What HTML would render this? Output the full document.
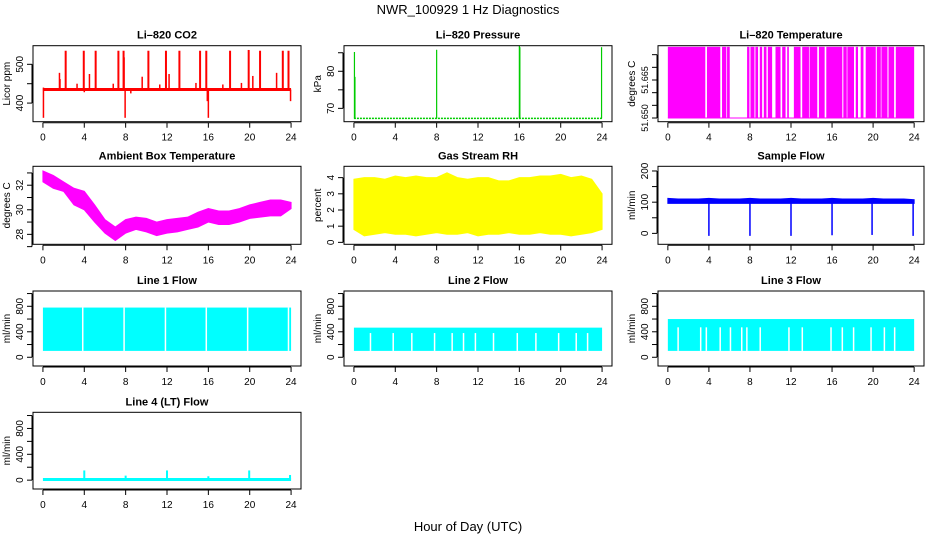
<!DOCTYPE html>
<html><head><meta charset="utf-8">
<style>
html,body{margin:0;padding:0;background:#fff;}
svg{display:block;font-family:"Liberation Sans",Arial,sans-serif;}
</style></head>
<body>
<svg id="c" width="936" height="540" viewBox="0 0 936 540">
<text x="468" y="14" text-anchor="middle" font-size="13">NWR_100929  1 Hz Diagnostics</text>
<text x="468" y="531" text-anchor="middle" font-size="13">Hour of Day (UTC)</text>
</svg>
<script>
// ---------- data ----------
const xTicks = [0,4,8,12,16,20,24];
const hours = [0,1,2,3,4,5,6,7,8,9,10,11,12,13,14,15,16,17,18,19,20,21,22,23,24];

const co2Base = 435;
const co2SpikeHours = [2.2,3.95,5.1,7.3,7.8,10.2,11.9,13.2,15.2,15.8,18.1,19.9,21.0,23.2,23.75];
const co2SpikeVals  = [535,535,535,535,535,535,535,535,535,535,535,537,535,535,535];
const co2SmallHours = [1.6,1.65,3.3,4.5,6.8,7.85,9.6,11.3,12.2,14.8,17.4,19.2,20.3,22.6,0.05];
const co2SmallVals  = [478,462,450,475,450,518,468,448,475,452,448,452,470,478,440];
const co2DipHours = [0.05,7.95,16.0,23.95,4.0,8.5,15.9];
const co2DipVals  = [362,362,362,405,428,425,405];

const presBase = 67.3;
const presSpikeHours = [0.05,0.1,8.0,16.0,16.05,23.95];
const presSpikeVals  = [85.2,78.5,85.8,86.9,86.5,86.5];

const tempLow = 51.650, tempHigh = 51.6781;
const tempHighStart = [0,3.81,5.28,5.77,7.72,8.05,8.53,8.96,9.35,9.74,10.49,11.14,11.63,12.28,13.09,13.81,14.72,15.44,17.1,17.49,18.31,18.79,19.28,20.36,20.81,21.5,22.21];
const tempHighEnd   = [3.65,5.11,5.70,6.03,7.95,8.44,8.79,9.19,9.61,10.16,10.98,11.47,11.79,12.93,13.75,14.56,15.28,17.0,17.43,18.14,18.53,19.06,20.26,20.75,21.4,22.05,24.0];

const ambLow  = [32.27,31.75,31.5,30.4,30.0,29.0,28.1,27.5,28.1,28.4,28.2,27.9,28.1,28.2,28.4,28.6,29.0,28.8,28.8,29.0,29.3,29.4,29.5,29.5,30.1];
const ambHigh = [33.16,32.8,32.27,31.75,31.5,30.4,29.2,28.6,29.2,29.4,29.3,29.0,29.2,29.3,29.4,29.8,30.1,29.9,29.9,30.1,30.4,30.6,30.8,30.8,30.6];

const rhLow  = [0.8,0.4,0.5,0.6,0.5,0.5,0.4,0.5,0.6,0.5,0.5,0.6,0.4,0.5,0.5,0.6,0.5,0.5,0.6,0.5,0.5,0.4,0.5,0.6,0.8];
const rhHigh = [3.9,4.0,4.0,3.9,4.1,4.0,4.1,4.0,4.0,4.3,4.0,3.9,4.0,4.0,3.8,3.8,4.0,4.0,4.1,4.1,4.2,4.0,4.1,3.9,3.0];

const flowLow = [96,96,96,96,96,96,96,96,96,96,96,96,96,96,96,96,96,96,96,96,96,96,96,96,96];
const flowHigh = [112,110,110,110,112,110,110,110,112,110,110,110,112,110,110,110,112,110,110,110,112,110,110,110,108];
const flowDipHours = [4.0,8.0,12.0,16.0,19.9,23.9];
const flowDipVals  = [-8,-8,-8,-6,-5,-8];

const l1Low = 100, l1High = 780, l1GapTop = 780;
const l1GapHours = [3.85,7.85,11.85,15.8,19.8,23.75];
const l2Low = 100, l2High = 465, l2GapTop = 380;
const l2GapHours = [1.6,3.8,5.6,7.8,9.5,10.6,11.75,13.5,15.8,17.6,19.8,21.5,22.6];
const l3Low = 100, l3High = 600, l3GapTop = 470;
const l3GapHours = [1.0,3.2,3.75,5.1,6.1,7.2,7.7,9.0,11.8,13.1,15.9,17.0,18.1,19.8,21.1,22.1];
const l4Base = 10;
const l4SpikeHours = [4.0,8.0,12.0,16.0,19.95,23.9];
const l4SpikeVals  = [150,70,150,60,150,80];

// ---------- layout ----------
const NS = "http://www.w3.org/2000/svg";
const svg = document.getElementById('c');
const colL = [33,344,658], colW = [268,268,266];
const rowT = [45.7,166.3,291,412.3], rowB = [121.7,244.3,366,489];

function el(tag, attrs, parent){
  const e = document.createElementNS(NS, tag);
  for (const k in attrs) e.setAttribute(k, attrs[k]);
  (parent||svg).appendChild(e);
  return e;
}

function panel(name, title, ylab, row, col, ylo, yhi, yticks, ylabels, tfs){
  const g = el('g', {});
  
  
  const x0 = colL[col], x1 = colL[col]+colW[col], y0 = rowT[row], y1 = rowB[row];
  const pad = 0.96;
  const sx = h => x0 + (h + pad) / (24 + 2*pad) * (x1 - x0);
  const sy = v => y1 - (v - ylo) / (yhi - ylo) * (y1 - y0);
  const plot = el('g', {}, g);
  
  
  const box = el('rect', {x:x0, y:y0, width:x1-x0, height:y1-y0, fill:'none', stroke:'#000', 'stroke-width':1}, g);
  
  
  const t = el('text', {x:(x0+x1)/2, y:y0-7, 'text-anchor':'middle', 'font-size':11, 'font-weight':'bold'}, g);
  t.textContent = title;
  
  
  const xa = el('g', {}, g);
  
  
  el('line', {x1:sx(0), x2:sx(24), y1:y1+1, y2:y1+1, stroke:'#000'}, xa);
  xTicks.forEach(v => {
    el('line', {x1:sx(v), x2:sx(v), y1:y1+1, y2:y1+6, stroke:'#000'}, xa);
    const tl = el('text', {x:sx(v), y:y1+19, 'text-anchor':'middle', 'font-size':10}, xa);
    tl.textContent = v;
    
    
  });
  const ya = el('g', {}, g);
  
  
  el('line', {x1:x0-1, x2:x0-1, y1:sy(yticks[0]), y2:sy(yticks[yticks.length-1]), stroke:'#000'}, ya);
  yticks.forEach((v,i) => {
    el('line', {x1:x0-6, x2:x0-1, y1:sy(v), y2:sy(v), stroke:'#000'}, ya);
    if (ylabels[i] !== '') {
      const tl = el('text', {x:x0-10, y:sy(v), 'text-anchor':'middle', 'font-size':tfs||10, transform:`rotate(-90 ${x0-10} ${sy(v)})`}, ya);
      tl.textContent = ylabels[i];
      
      
    }
  });
  const yl = el('text', {x:x0-23, y:(y0+y1)/2, 'text-anchor':'middle', 'font-size':10, transform:`rotate(-90 ${x0-23} ${(y0+y1)/2})`}, g);
  yl.textContent = ylab;
  
  
  return {sx, sy, g:plot};
}

function vline(p, h, a, b, color, w){
  return el('line', {x1:p.sx(h), x2:p.sx(h), y1:p.sy(a), y2:p.sy(b), stroke:color, 'stroke-width':w||1.5}, p.g);
}
function band(p, lo, hi, color){
  let pts = hours.map((h,i)=>`${p.sx(h)},${p.sy(hi[i])}`);
  pts = pts.concat(hours.slice().reverse().map((h,j)=>{const i=hours.length-1-j; return `${p.sx(h)},${p.sy(lo[i])}`;}));
  return el('polygon', {points:pts.join(' '), fill:color, stroke:color, 'stroke-width':1}, p.g);
}

// 1. CO2
{
  const p = panel('co2','Li–820 CO2','Licor ppm',0,0,352,548,[400,450,500],['400','','500']);
  co2SpikeHours.forEach((h,i)=>vline(p,h,co2Base,co2SpikeVals[i],'#f00',2));
  co2SmallHours.forEach((h,i)=>vline(p,h,co2Base,co2SmallVals[i],'#f00',1.5));
  co2DipHours.forEach((h,i)=>vline(p,h,co2Base,co2DipVals[i],'#f00',1.5));
  el('line',{x1:p.sx(0),x2:p.sx(24),y1:p.sy(co2Base),y2:p.sy(co2Base),stroke:'#f00','stroke-width':3},p.g);
}
// 2. Pressure
{
  const p = panel('pressure','Li–820 Pressure','kPa',0,1,66.4,86.9,[70,75,80,85],['70','','80','']);
  el('line',{x1:p.sx(0),x2:p.sx(24),y1:p.sy(presBase),y2:p.sy(presBase),stroke:'#0c0','stroke-width':1.5,'stroke-dasharray':'2 1'},p.g);
  presSpikeHours.forEach((h,i)=>vline(p,h,presBase,presSpikeVals[i],'#0c0',1.2));
}
// 3. Li-820 temperature
{
  const p = panel('li820-temp','Li–820 Temperature','degrees C',0,2,51.64854,51.67854,[51.650,51.655,51.660,51.665,51.670,51.675],['51.650','','','51.665','',''],9);
  el('line',{x1:p.sx(0),x2:p.sx(24),y1:p.sy(tempLow),y2:p.sy(tempLow),stroke:'#f0f','stroke-width':1},p.g);
  tempHighStart.forEach((s,i)=>{
    el('rect',{x:p.sx(s),y:p.sy(tempHigh),width:Math.max(1,p.sx(tempHighEnd[i])-p.sx(s)),height:p.sy(tempLow)-p.sy(tempHigh),fill:'#f0f'},p.g);
  });
}
// 4. Ambient
{
  const p = panel('ambient-temp','Ambient Box Temperature','degrees C',1,0,27.19,33.54,[27,28,29,30,31,32,33],['','28','','30','','32','']);
  band(p, ambLow, ambHigh, '#f0f');
}
// 5. RH
{
  const p = panel('gas-rh','Gas Stream RH','percent',1,1,-0.12,4.7,[0,1,2,3,4],['0','1','2','3','4']);
  band(p, rhLow, rhHigh, '#ff0');
}
// 6. Sample flow
{
  const p = panel('sample-flow','Sample Flow','ml/min',1,2,-35,215,[0,50,100,150,200],['0','','100','','200']);
  band(p, flowLow, flowHigh, '#00f');
  flowDipHours.forEach((h,i)=>vline(p,h,100,flowDipVals[i],'#00f',1.5));
}
// 7-9 line flows
function linePanel(name,title,row,col,lo,hi,gapTop,gaps){
  const p = panel(name,title,'ml/min',row,col,-137,1040,[0,200,400,600,800,1000],['0','','400','','800','']);
  el('rect',{x:p.sx(0),y:p.sy(hi),width:p.sx(24)-p.sx(0),height:p.sy(lo)-p.sy(hi),fill:'#0ff'},p.g);
  gaps.forEach(h=>vline(p,h,lo,gapTop,'#fff',1.5));
  return p;
}
linePanel('line1-flow','Line 1 Flow',2,0,l1Low,l1High,l1GapTop,l1GapHours);
linePanel('line2-flow','Line 2 Flow',2,1,l2Low,l2High,l2GapTop,l2GapHours);
linePanel('line3-flow','Line 3 Flow',2,2,l3Low,l3High,l3GapTop,l3GapHours);
// 10. line 4
{
  const p = panel('line4-flow','Line 4 (LT) Flow','ml/min',3,0,-137,1050,[0,200,400,600,800,1000],['0','','400','','800','']);
  el('line',{x1:p.sx(0),x2:p.sx(24),y1:p.sy(l4Base),y2:p.sy(l4Base),stroke:'#0ff','stroke-width':3},p.g);
  l4SpikeHours.forEach((h,i)=>vline(p,h,l4Base,l4SpikeVals[i],'#0ff',2));
}
</script>
</body></html>
